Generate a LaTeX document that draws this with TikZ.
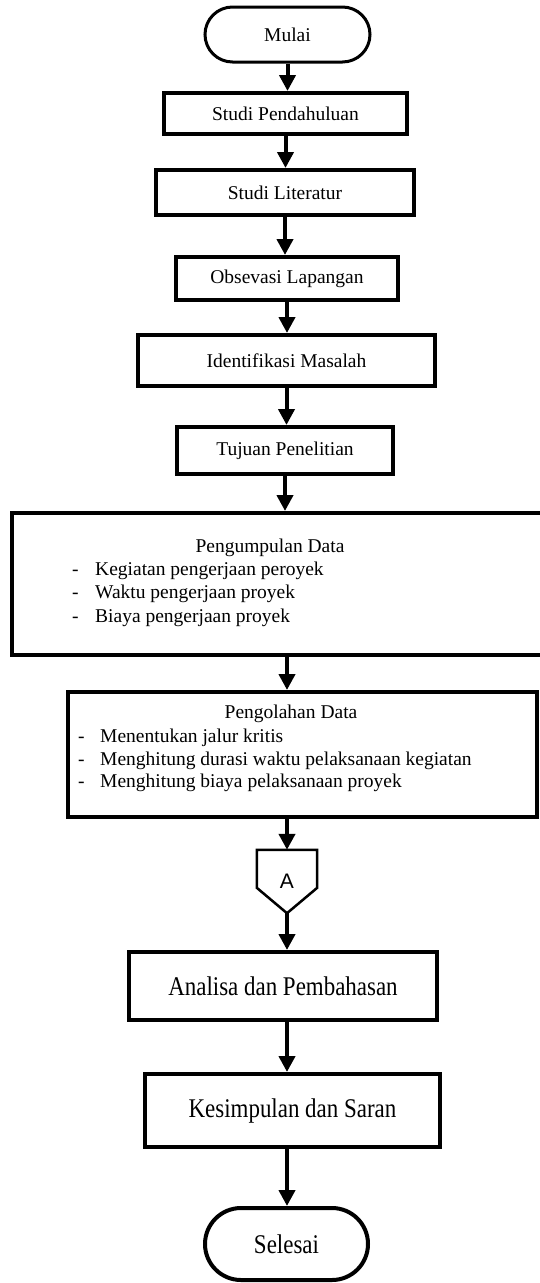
\documentclass[tikz,border=0pt]{standalone}
\usepackage{fontspec}
\setmainfont{Liberation Serif}
\newfontfamily\narrowfont[FakeStretch=0.85]{Liberation Serif}
\newfontfamily\sansA{Liberation Sans}
\usetikzlibrary{arrows.meta,shapes.misc,calc}
\tikzset{
  boxn/.style={draw, rectangle, line width=4pt, inner sep=0pt, font=\fontsize{19.5}{23.5}\selectfont},
  term/.style={draw, rounded rectangle, line width=3pt, inner sep=0pt},
  arr/.style={line width=4pt, -{Triangle[width=16pt,length=16pt]}},
  txt/.style={inner sep=0pt, font=\fontsize{19.5}{23.5}\selectfont},
  bigtxt/.style={font=\narrowfont\fontsize{27}{30}\selectfont},
}
\begin{document}
\begin{tikzpicture}[x=1pt,y=-1pt]
\useasboundingbox (0,0) rectangle (539,1283);
% terminals and boxes
\node[term, minimum width=165pt, minimum height=55pt, font=\fontsize{19.5}{23.5}\selectfont] (mulai) at (287.5,34.5) {Mulai};
\node[boxn, minimum width=243pt, minimum height=41pt] (sp) at (285.5,113.5) {Studi Pendahuluan};
\node[boxn, minimum width=258pt, minimum height=45pt] (sl) at (285,192.5) {Studi Literatur};
\node[boxn, minimum width=222pt, minimum height=43pt] (ol) at (287,278.5) {Obsevasi Lapangan};
\node[boxn, minimum width=297pt, minimum height=51pt] (im) at (286.5,360.5) {Identifikasi Masalah};
\node[boxn, minimum width=216pt, minimum height=47pt] (tp) at (285,450.5) {Tujuan Penelitian};
% Pengumpulan Data
\node[boxn, minimum width=530pt, minimum height=142pt] (pd) at (277,584) {};
\node[txt, anchor=base] (pdt) at (270,552) {Pengumpulan Data};
\node[txt, anchor=base west] (pdd1) at (72,575) {-};
\node[txt, anchor=base west] (pdi1) at (95,575) {Kegiatan pengerjaan peroyek};
\node[txt, anchor=base west] (pdd2) at (72,598) {-};
\node[txt, anchor=base west] (pdi2) at (95,598) {Waktu pengerjaan proyek};
\node[txt, anchor=base west] (pdd3) at (72,622) {-};
\node[txt, anchor=base west] (pdi3) at (95,622) {Biaya pengerjaan proyek};
% Pengolahan Data
\node[boxn, minimum width=469pt, minimum height=125pt] (pod) at (302.5,754.5) {};
\node[txt, anchor=base] (podt) at (291,718) {Pengolahan Data};
\node[txt, anchor=base west] (podd1) at (78,742) {-};
\node[txt, anchor=base west] (podi1) at (100,742) {Menentukan jalur kritis};
\node[txt, anchor=base west] (podd2) at (78,765) {-};
\node[txt, anchor=base west] (podi2) at (100,765) {Menghitung durasi waktu pelaksanaan kegiatan};
\node[txt, anchor=base west] (podd3) at (78,787) {-};
\node[txt, anchor=base west] (podi3) at (100,787) {Menghitung biaya pelaksanaan proyek};
% off-page connector A
\node[inner sep=0pt, minimum width=60pt, minimum height=63pt, font=\sansA\fontsize{21}{24}\selectfont] (a) at (287,881.5) {A};
\draw[line width=2.5pt, line join=miter] (a.north west) -- (a.north east) -- ($(a.north east)+(0,38)$) -- (a.south) -- ($(a.north west)+(0,38)$) -- cycle;
% lower boxes
\node[boxn, bigtxt, minimum width=308pt, minimum height=68pt] (an) at (283,986) {Analisa dan Pembahasan};
\node[boxn, bigtxt, minimum width=295pt, minimum height=73pt] (ks) at (292.5,1110.5) {Kesimpulan dan Saran};
\node[term, bigtxt, line width=4pt, minimum width=163pt, minimum height=72pt] (sel) at (286.5,1244) {Selesai};
% connectors
\draw[arr] (mulai.south) -- (mulai.south |- sp.north);
\draw[arr] (sp.south) -- (sp.south |- sl.north);
\draw[arr] (sl.south) -- (sl.south |- ol.north);
\draw[arr] (ol.south) -- (ol.south |- im.north);
\draw[arr] (im.south) -- (im.south |- tp.north);
\draw[arr] (tp.south) -- (tp.south |- pd.north);
\draw[arr] (pd.south -| a.north) -- (a.north |- pod.north);
\draw[arr] (pod.south -| a.north) -- (a.north);
\draw[arr] (a.south) -- (a.south |- an.north);
\draw[arr] (an.south -| a.south) -- (a.south |- ks.north);
\draw[arr] (ks.south -| a.south) -- (a.south |- sel.north);
\end{tikzpicture}
\end{document}
